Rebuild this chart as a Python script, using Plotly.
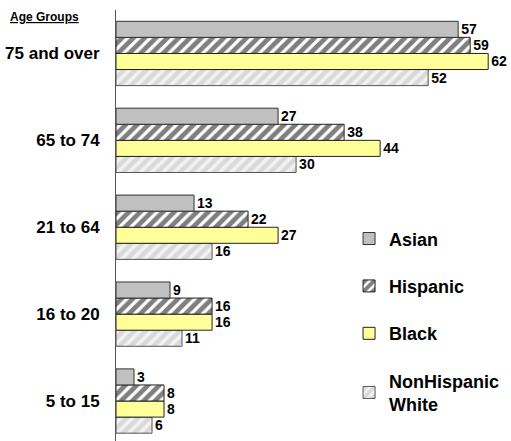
import plotly.graph_objects as go

categories = ["5 to 15", "16 to 20", "21 to 64", "65 to 74", "75 and over"]
asian = [3, 9, 13, 27, 57]
hispanic = [8, 16, 22, 38, 59]
black = [8, 16, 27, 44, 62]
nhwhite = [6, 11, 16, 30, 52]

FONT = "Arial, Liberation Sans, sans-serif"
pos = list(range(len(categories)))

series = [
    ("Asian", asian, dict(color="#C0C0C0", line=dict(color="#333333", width=1))),
    ("Hispanic", hispanic, dict(color="white", line=dict(color="#222222", width=1),
                                pattern=dict(shape="/", fgcolor="black", bgcolor="white", size=8, solidity=0.6))),
    ("Black", black, dict(color="#FFFF99", line=dict(color="#222222", width=1))),
    ("NonHispanic<br>White", nhwhite, dict(color="white", line=dict(color="#555555", width=1),
                                          pattern=dict(shape="/", fgcolor="#C0C0C0", bgcolor="#F2F2F2", size=8, solidity=0.55))),
]

fig = go.Figure()
for rank, (name, vals, marker) in reversed(list(enumerate(series))):
    fig.add_trace(go.Bar(
        y=pos, x=vals, orientation="h", name=name, marker=marker,
        text=[str(v) for v in vals], textposition="outside", cliponaxis=False,
        textfont=dict(family=FONT, size=14, color="black", weight="bold"),
        legendgroup=name, legendrank=rank + 1,
    ))

fig.update_layout(
    width=511, height=441,
    margin=dict(l=116, r=0, t=10, b=0, autoexpand=False),
    paper_bgcolor="white", plot_bgcolor="white",
    barmode="group", bargap=0.26, bargroupgap=0,
    font=dict(family=FONT, color="black"),
    showlegend=True,
    legend=dict(x=0.59, y=0.512, xanchor="left", yanchor="top",
                traceorder="grouped", tracegroupgap=21,
                font=dict(family=FONT, size=18, color="black", weight="bold"),
                bgcolor="rgba(0,0,0,0)", itemwidth=30),
    xaxis=dict(range=[0, 65.8], visible=False, fixedrange=True, automargin=False),
    yaxis=dict(range=[-0.46, 4.5], tickvals=pos, ticktext=categories,
               showline=True, linecolor="#555555", linewidth=1,
               showgrid=False, zeroline=False, ticks="", automargin=False,
               ticklabelstandoff=12,
               tickfont=dict(family=FONT, size=17, color="black", weight="bold")),
)
fig.add_annotation(text="<b><u>Age Groups</u></b>", xref="paper", yref="paper",
                   x=-108/395, y=1 + (10 - 17) / 431, xanchor="left", yanchor="middle",
                   showarrow=False, font=dict(family=FONT, size=12, color="black"))

fig.write_html("out.html")
